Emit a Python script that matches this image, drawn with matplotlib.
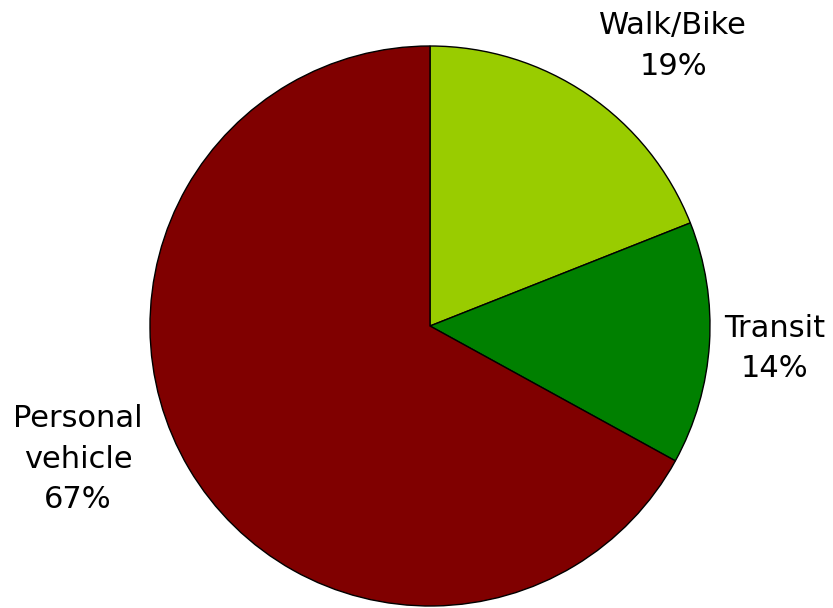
import matplotlib
matplotlib.use("Agg")
import matplotlib.pyplot as plt

categories = ["Walk/Bike", "Transit", "Personal\nvehicle"]
values = [19, 14, 67]
colors = ["#99CC00", "#008000", "#800000"]
label_pos = [(0.868, 1.0), (1.232, -0.08), (-1.257, -0.475)]

fig = plt.figure(figsize=(8.33, 6.08), dpi=100)
ax = fig.add_axes([150/833, 2/608, 560/833, 560/608])
ax.pie(values, colors=colors, startangle=90, counterclock=False,
       wedgeprops=dict(edgecolor="black", linewidth=1.0), radius=1.0)
for cat, v, (x, y) in zip(categories, values, label_pos):
    ax.text(x, y, f"{cat}\n{v}%", ha="center", va="center", fontsize=22,
            family="DejaVu Sans", linespacing=1.5)
ax.set_xlim(-1, 1)
ax.set_ylim(-1, 1)
ax.set_aspect("equal")
ax.axis("off")
fig.savefig("out.png", dpi=100)
